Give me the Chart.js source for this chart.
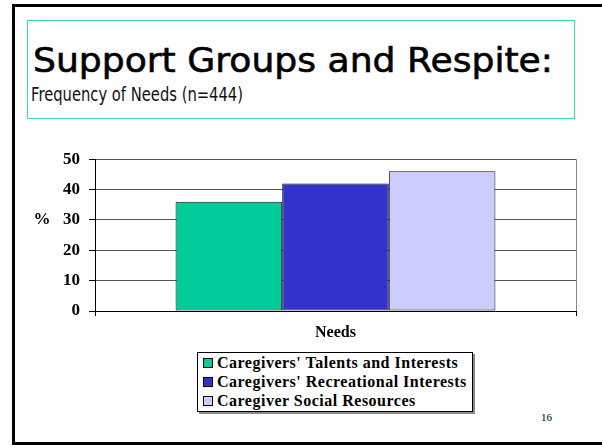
<!DOCTYPE html>
<html>
<head>
<meta charset="utf-8">
<script src="https://cdn.jsdelivr.net/npm/chart.js@4/dist/chart.umd.min.js"></script>
<style>
  html, body { margin: 0; padding: 0; background: #fff; }
  #slide { position: relative; width: 602px; height: 445px; overflow: hidden; background: #fff; }
  #frame { position: absolute; left: 12px; top: 4px; width: 588px; height: 435px;
           border: 3px solid #000; border-right-color: #555; }
  #titlebox { position: absolute; left: 27px; top: 20px; width: 546px; height: 97px;
              border: 1px solid #33ddb8; }
  #title { position: absolute; left: 5px; top: 20px; font: 33px "DejaVu Sans", sans-serif;
           -webkit-text-stroke: 0.6px #000;
           color: #000; white-space: nowrap; transform-origin: 0 0; }
  #subtitle { position: absolute; left: 3px; top: 62px; font: 19px "DejaVu Sans", sans-serif;
              color: #111; white-space: nowrap; transform-origin: 0 0; }
  #chartWrap { position: absolute; left: 0; top: 140px; width: 602px; height: 205px; }
  #legend { position: absolute; left: 197px; top: 352px; width: 274px; height: 58px;
            border: 1px solid #000; box-shadow: 2px 2px 0 #8a8a8a; background: #fff;
            font: bold 16px "Liberation Serif", "Times New Roman", serif; letter-spacing: 0.5px; }
  .lg-row { position: absolute; left: 5px; height: 19px; line-height: 19px; white-space: nowrap; }
  .lg-box { display: inline-block; width: 8px; height: 8px; border: 1px solid #000;
            margin-right: 4px; vertical-align: 0px; }
  #page { position: absolute; left: 541px; top: 411px; font: 11px "Liberation Serif", serif; color: #000; }
</style>
</head>
<body>
<div id="slide">
  <div id="frame"></div>
  <div id="titlebox">
    <div id="title">Support Groups and Respite:</div>
    <div id="subtitle">Frequency of Needs (n=444)</div>
  </div>
  <div id="chartWrap"><canvas id="chart"></canvas></div>
  <div id="legend"></div>
  <div id="page">16</div>
</div>
<script>
// ── DATA ─────────────────────────────────────
const categories = [''];
const seriesNames = ["Caregivers' Talents and Interests", "Caregivers' Recreational Interests", "Caregiver Social Resources"];
const seriesValues = [[36], [42], [46]];
const seriesColors = ['#00cc99', '#3333cc', '#ccccff'];
const yTicks = [0, 10, 20, 30, 40, 50];

// fit the slide title widths
function fitWidth(id, w) {
  const el = document.getElementById(id);
  const s = w / el.getBoundingClientRect().width;
  el.style.transform = 'scaleX(' + s + ')';
}
fitWidth('title', 520);
fitWidth('subtitle', 212);

const serif = '"Liberation Serif", "Times New Roman", serif';

const pctLabel = {
  id: 'pct-label',
  afterDraw(chart) {
    const { ctx, scales: { y } } = chart;
    ctx.save();
    ctx.font = 'bold 17px ' + serif;
    ctx.fillStyle = '#000';
    ctx.textAlign = 'center';
    ctx.textBaseline = 'middle';
    ctx.fillText('%', 42, y.getPixelForValue(30));
    ctx.restore();
  }
};

const chart = new Chart(document.getElementById('chart'), {
  type: 'bar',
  data: {
    labels: categories,
    datasets: seriesNames.map((name, i) => ({
      label: name,
      data: seriesValues[i],
      backgroundColor: seriesColors[i],
      borderColor: '#111',
      borderWidth: 1,
      borderSkipped: false,
      barPercentage: 1,
      categoryPercentage: 0.665
    }))
  },
  options: {
    responsive: true, maintainAspectRatio: false,
    animation: false,
    layout: { padding: { top: 16, right: 26, left: 0, bottom: 0 } },
    plugins: { legend: { display: false }, tooltip: { enabled: false } },
    scales: {
      x: {
        grid: { display: true, offset: true, color: '#888', tickLength: 5, tickColor: '#000', lineWidth: 1 },
        border: { color: '#000', width: 1 },
        ticks: { display: false },
        title: { display: true, text: 'Needs', color: '#000', font: { family: serif, size: 16, weight: 'bold' }, padding: { top: 0, bottom: 3 } },
        afterFit(s) { s.height = 34; }
      },
      y: {
        min: 0, max: 50,
        afterBuildTicks(s) { s.ticks = yTicks.map(v => ({ value: v })); },
        grid: { color: '#555', tickLength: 6, tickColor: '#000' },
        border: { color: '#000', width: 1 },
        ticks: { color: '#000', padding: 9, font: { family: serif, size: 17, weight: 'bold' } },
        afterFit(s) { s.width = 95; }
      }
    }
  },
  plugins: [pctLabel]
});

// legend built from the datasets
const lg = document.getElementById('legend');
chart.data.datasets.forEach((ds, i) => {
  const row = document.createElement('div');
  row.className = 'lg-row';
  row.style.top = (i * 19) + 'px';
  row.innerHTML = '<span class="lg-box" style="background:' + ds.backgroundColor + '"></span>' + ds.label;
  lg.appendChild(row);
});
</script>
</body>
</html>
